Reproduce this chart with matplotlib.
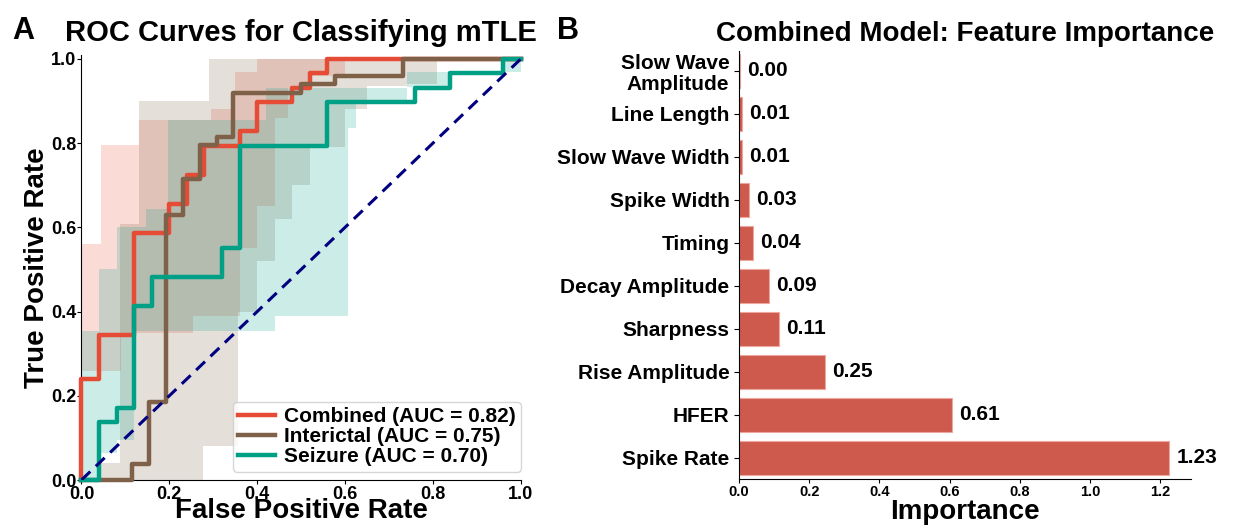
import numpy as np
import matplotlib
matplotlib.use('Agg')
import matplotlib.pyplot as plt

plt.rcParams['font.family'] = ['Liberation Sans', 'DejaVu Sans']
plt.rcParams['font.weight'] = 'bold'

# ROC curves (fpr / tpr as returned by roc_curve)
fpr_comb = [0, 0, 0.04, 0.04, 0.12, 0.12, 0.20, 0.20, 0.24, 0.24, 0.28, 0.28, 0.36, 0.36,
            0.40, 0.40, 0.48, 0.48, 0.52, 0.52, 0.56, 0.56, 1.0]
tpr_comb = [0, 0.241, 0.241, 0.345, 0.345, 0.586, 0.586, 0.655, 0.655, 0.724, 0.724, 0.793, 0.793, 0.828,
            0.828, 0.897, 0.897, 0.931, 0.931, 0.966, 0.966, 1.0, 1.0]
fpr_inter = [0, 0.115, 0.115, 0.154, 0.154, 0.192, 0.192, 0.231, 0.231, 0.269, 0.269, 0.308, 0.308,
             0.346, 0.346, 0.5, 0.5, 0.577, 0.577, 0.731, 0.731, 1.0]
tpr_inter = [0, 0, 0.037, 0.037, 0.185, 0.185, 0.630, 0.630, 0.716, 0.716, 0.796, 0.796, 0.815,
             0.815, 0.919, 0.919, 0.94, 0.94, 0.96, 0.96, 1.0, 1.0]
fpr_seiz = [0, 0.04, 0.04, 0.08, 0.08, 0.12, 0.12, 0.16, 0.16, 0.32, 0.32, 0.36, 0.36, 0.56, 0.56,
            0.76, 0.76, 0.84, 0.84, 0.96, 0.96, 1.0]
tpr_seiz = [0, 0, 0.138, 0.138, 0.172, 0.172, 0.414, 0.414, 0.483, 0.483, 0.552, 0.552, 0.793, 0.793,
            0.897, 0.897, 0.931, 0.931, 0.966, 0.966, 1.0, 1.0]
auc_vals = [0.82, 0.75, 0.70]
model_names = ['Combined', 'Interictal', 'Seizure']

# confidence bands (step functions)
band_x_comb = [0, 0.045, 0.09, 0.13, 0.253, 0.295, 0.35, 0.36, 0.40, 0.44, 0.47, 0.52, 0.6, 1.0]
band_hi_comb = [0.56, 0.795, 0.795, 0.855, 0.855, 0.882, 0.97, 0.97, 1.0, 1.0, 1.0, 1.0, 1.0, 1.0]
band_lo_comb = [0.26, 0.26, 0.35, 0.35, 0.39, 0.39, 0.39, 0.55, 0.65, 0.86, 0.93, 0.96, 1.0, 1.0]

band_x_inter = [0, 0.04, 0.088, 0.13, 0.277, 0.29, 0.357, 0.40, 0.44, 0.48, 0.52, 0.60, 0.65, 0.74, 0.81, 1.0]
band_hi_inter = [0.0, 0.04, 0.607, 0.90, 0.90, 1.0, 1.0, 1.0, 1.0, 1.0, 1.0, 1.0, 1.0, 1.0, 1.0, 1.0]
band_lo_inter = [0, 0, 0, 0, 0.08, 0.08, 0.40, 0.52, 0.62, 0.70, 0.79, 0.88, 0.935, 0.94, 1.0, 1.0]

band_x_seiz = [0, 0.04, 0.08, 0.12, 0.146, 0.197, 0.42, 0.44, 0.606, 0.625, 0.74, 0.84, 0.96, 1.0]
band_hi_seiz = [0.355, 0.50, 0.60, 0.60, 0.643, 0.855, 0.93, 0.93, 0.93, 0.93, 0.97, 0.96, 1.0, 1.0]
band_lo_seiz = [0, 0.063, 0.094, 0.354, 0.354, 0.354, 0.354, 0.39, 0.835, 0.90, 0.934, 0.96, 0.97, 1.0]

# feature importance
features = ['Slow Wave\nAmplitude', 'Line Length', 'Slow Wave Width', 'Spike Width', 'Timing',
            'Decay Amplitude', 'Sharpness', 'Rise Amplitude', 'HFER', 'Spike Rate']
importance = [0.002, 0.008, 0.009, 0.028, 0.039, 0.086, 0.113, 0.246, 0.606, 1.227]

colors = ['#E64B35', '#7E6148', '#00A087']

fig = plt.figure(figsize=(12.34, 5.25), dpi=100)
ax1 = fig.add_axes([0.066, 0.0857, 0.356, 0.81])
ax2 = fig.add_axes([0.599, 0.0876, 0.366, 0.816])

# --- panel A ---
bands = [(band_x_comb, band_lo_comb, band_hi_comb),
         (band_x_inter, band_lo_inter, band_hi_inter),
         (band_x_seiz, band_lo_seiz, band_hi_seiz)]
for (bx, lo, hi), c in zip(bands, colors):
    ax1.fill_between(bx, lo, hi, step='post', color=c, alpha=0.2, linewidth=0)

curves = [(fpr_comb, tpr_comb), (fpr_inter, tpr_inter), (fpr_seiz, tpr_seiz)]
for (f, t), c, name, auc in zip(curves, colors, model_names, auc_vals):
    ax1.plot(f, t, color=c, lw=3.2, label=f'{name} (AUC = {auc:.2f})', clip_on=False, zorder=3)

ax1.plot([0, 1], [0, 1], color='navy', lw=2.2, linestyle=(0, (4, 2.5)), zorder=4)
ax1.set_xlim(0, 1)
ax1.set_ylim(0, 1.01)
ax1.set_xticks(np.arange(0, 1.01, 0.2))
ax1.set_yticks(np.arange(0, 1.01, 0.2))
ax1.tick_params(labelsize=13, length=3)
ax1.tick_params(axis='y', pad=0.5)
ax1.tick_params(axis='x', pad=1.0)
for lab in ax1.get_xticklabels() + ax1.get_yticklabels():
    lab.set_fontweight('bold')
ax1.set_xlabel('False Positive Rate', fontsize=20, fontweight='bold', labelpad=-3.5)
ax1.set_ylabel('True Positive Rate', fontsize=20, fontweight='bold', labelpad=1)
ax1.set_title('ROC Curves for Classifying mTLE', fontsize=21, fontweight='bold', pad=10)
ax1.spines['top'].set_visible(False)
ax1.spines['right'].set_visible(False)
leg = ax1.legend(loc='lower right', bbox_to_anchor=(1.0, 0.02), prop={'size': 15, 'weight': 'bold'},
                 borderpad=0.25, labelspacing=0.05, handlelength=1.8, handletextpad=0.4,
                 borderaxespad=0.0)

# --- panel B ---
ypos = np.arange(len(features))
bars = ax2.barh(ypos, importance, height=0.8, color='#CD5A4C', edgecolor='#EDA79E', linewidth=0.8)
for b, v in zip(bars, importance):
    ax2.text(b.get_width() + 0.02, b.get_y() + b.get_height() / 2, f'{v:.2f}',
             ha='left', va='center', fontsize=15, fontweight='bold')
ax2.set_yticks(ypos)
ax2.set_yticklabels(features, fontsize=15, fontweight='bold', linespacing=1.15)
ax2.set_ylim(9.49, -0.47)
ax2.set_xlim(0, 1.288)
ax2.set_xticks(np.arange(0, 1.21, 0.2))
ax2.tick_params(axis='x', labelsize=10.5, pad=1.5, length=3)
for lab in ax2.get_xticklabels():
    lab.set_fontweight('bold')
ax2.set_xlabel('Importance', fontsize=20, fontweight='bold', labelpad=0)
ax2.set_title('Combined Model: Feature Importance', fontsize=20, fontweight='bold', pad=7)
ax2.spines['top'].set_visible(False)
ax2.spines['right'].set_visible(False)

fig.text(0.010, 0.925, 'A', fontsize=22, fontweight='bold')
fig.text(0.451, 0.925, 'B', fontsize=22, fontweight='bold')

fig.savefig('out.png', dpi=100)
